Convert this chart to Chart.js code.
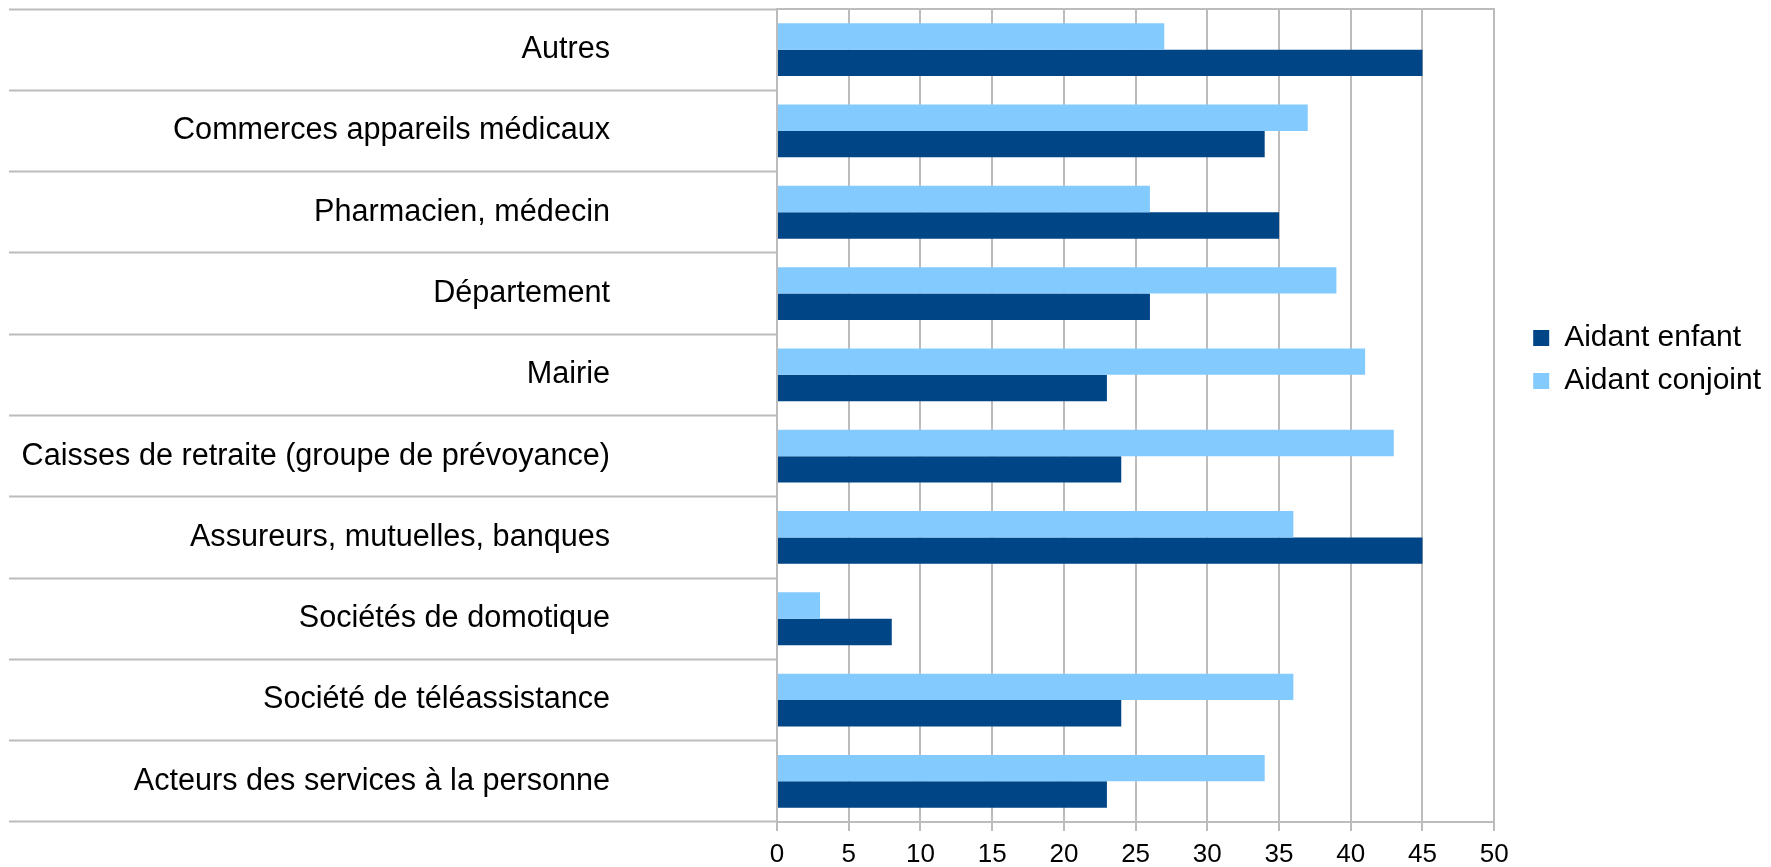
<!DOCTYPE html>
<html>
<head>
<meta charset="utf-8">
<script src="https://cdn.jsdelivr.net/npm/chart.js@4.4.1/dist/chart.umd.min.js"></script>
<style>
  html, body { margin: 0; padding: 0; background: #fff; }
  #wrap { width: 1771px; height: 867px; }
</style>
</head>
<body>
<div id="wrap"><canvas id="aidantsChart" width="1771" height="867"></canvas></div>
<script>
// categories, top to bottom
var categories = [
    'Autres',
    'Commerces appareils médicaux',
    'Pharmacien, médecin',
    'Département',
    'Mairie',
    'Caisses de retraite (groupe de prévoyance)',
    'Assureurs, mutuelles, banques',
    'Sociétés de domotique',
    'Société de téléassistance',
    'Acteurs des services à la personne'
];
var aidantConjoint = [27, 37, 26, 39, 41, 43, 36, 3, 36, 34];
var aidantEnfant = [45, 34, 35, 26, 23, 24, 45, 8, 24, 23];
var xTicks = { min: 0, max: 50, step: 5 };

var gridColor = '#bcbcbc';
var fontFamily = '"Liberation Sans", Arial, sans-serif';

var ctx = document.getElementById('aidantsChart').getContext('2d');
var myChart = new Chart(ctx, {
    type: 'bar',
    data: {
        labels: categories,
        datasets: [{
            label: 'Aidant conjoint',
            data: aidantConjoint,
            backgroundColor: '#83caff',
            xAxisID: 'x',
            yAxisID: 'y'
        }, {
            label: 'Aidant enfant',
            data: aidantEnfant,
            backgroundColor: '#004586',
            xAxisID: 'x',
            yAxisID: 'y'
        }]
    },
    options: {
        indexAxis: 'y',
        responsive: false,
        animation: false,
        categoryPercentage: 0.65,
        barPercentage: 1.0,
        layout: { padding: { left: 0, right: 0, top: 0, bottom: 0 } },
        scales: {
            x: {
                position: 'bottom',
                min: xTicks.min,
                max: xTicks.max,
                ticks: {
                    stepSize: xTicks.step,
                    color: '#000',
                    padding: 8,
                    font: { family: fontFamily, size: 26 }
                },
                grid: { color: gridColor, lineWidth: 2, tickLength: 9 },
                border: { color: gridColor, width: 2 },
                afterFit: function(scale) { scale.height = 45; }
            },
            // only draws the top frame line of the plot
            xTop: {
                position: 'top',
                min: xTicks.min,
                max: xTicks.max,
                ticks: { display: false },
                grid: { drawOnChartArea: false, drawTicks: false },
                border: { color: gridColor, width: 2 },
                afterFit: function(scale) { scale.height = 9; }
            },
            y: {
                position: 'left',
                ticks: {
                    autoSkip: false,
                    color: '#000',
                    padding: -601,
                    font: { family: fontFamily, size: 30.6 }
                },
                // long tick marks give the separators across the label column
                grid: {
                    drawOnChartArea: false,
                    tickLength: 768,
                    tickColor: gridColor,
                    tickWidth: 2
                },
                border: { color: gridColor, width: 2 },
                afterFit: function(scale) { scale.width = 777; }
            },
            // empty spacer between plot and legend
            yRight: {
                type: 'category',
                position: 'right',
                ticks: { display: false },
                grid: { display: false, drawTicks: false },
                border: { display: false },
                afterFit: function(scale) { scale.width = 26; }
            }
        },
        plugins: {
            tooltip: { enabled: false },
            legend: {
                position: 'right',
                align: 'start',
                reverse: true,
                title: {
                    display: true,
                    text: ' ',
                    font: { size: 10 },
                    padding: { top: 298, bottom: 0 }
                },
                labels: {
                    boxWidth: 16,
                    boxHeight: 16,
                    padding: 13,
                    color: '#000',
                    font: { family: fontFamily, size: 30 }
                }
            }
        }
    }
});
</script>
</body>
</html>
